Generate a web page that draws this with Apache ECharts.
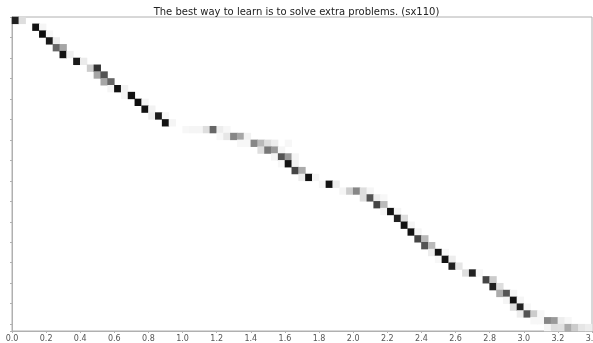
<!DOCTYPE html>
<html>
<head>
<meta charset="utf-8">
<title>alignment</title>
<script src="https://cdn.jsdelivr.net/npm/echarts@6/dist/echarts.min.js"></script>
<style>
	html, body { margin: 0; padding: 0; background: #fff; }
	#chart { width: 593px; height: 343px; }
</style>
</head>
<body>
<div id="chart"></div>
<script>
	// 标题
	const titleText = "The best way to learn is to solve extra problems. (sx110)";
	// 帧数 / 行数
	const frameCount = 85;
	const rowCount = 46;
	const frameStep = 0.04;
	// 时间轴刻度
	const xTicks = [0.0, 0.2, 0.4, 0.6, 0.8, 1.0, 1.2, 1.4, 1.6, 1.8, 2.0, 2.2, 2.4, 2.6, 2.8, 3.0, 3.2, 3.4];
	// 每行非零权重起始帧
	const rowStart = [0, 3, 4, 5, 6, 7, 9, 11, 12, 13, 14, 16, 18, 19, 20, 22,
		25, 30, 33, 36, 38, 39, 41, 42, 45, 48, 51, 53, 54, 56, 57, 58, 59, 60,
		61, 62, 64, 66, 69, 70, 71, 72, 73, 74, 76, 78];
	// 每行权重
	const rowWeights = [
		[0.87, 0.13],
		[0.93, 0.04],
		[0.95, 0.03],
		[0.9, 0.07],
		[0.6, 0.35],
		[0.93, 0.06],
		[0.9, 0.08],
		[0.2, 0.8],
		[0.35, 0.67],
		[0.35, 0.6],
		[0.04, 0.93, 0.05],
		[0.04, 0.93],
		[0.95, 0.04],
		[0.93, 0.05],
		[0.07, 0.9, 0.03],
		[0.93, 0.04],
		[0.03, 0.04, 0.04, 0.13, 0.6, 0.07, 0.03],
		[0.03, 0.1, 0.47, 0.35, 0.05],
		[0.03, 0.03, 0.47, 0.27, 0.13, 0.07, 0, 0.03],
		[0.13, 0.53, 0.4, 0.04],
		[0.04, 0.67, 0.4, 0.04],
		[0.03, 0.93, 0.05],
		[0.73, 0.33],
		[0.07, 0.93, 0.04],
		[0.03, 0.93, 0.07],
		[0.04, 0.2, 0.47, 0.13, 0.04],
		[0.13, 0.67, 0.07, 0.03],
		[0.73, 0.27],
		[0.04, 0.93, 0.04],
		[0.87, 0.13],
		[0.93, 0.04],
		[0.93, 0.04],
		[0.73, 0.27],
		[0.67, 0.27],
		[0.07, 0.93, 0.03],
		[0.03, 0.93, 0.07],
		[0.87, 0.1],
		[0.13, 0.87, 0.03],
		[0.73, 0.2],
		[0.87, 0.13],
		[0.33, 0.67, 0.04],
		[0.04, 0.93, 0.04],
		[0.13, 0.87, 0.03],
		[0.07, 0.67, 0.2, 0.03],
		[0.03, 0.03, 0.47, 0.4, 0.07, 0.03],
		[0.04, 0.13, 0.12, 0.33, 0.2, 0.1, 0.07]
	];

	// 构造热力图数据 [帧, 行, 权重]
	let frames = [];
	for (let i = 0; i < frameCount; i++) frames.push((i * frameStep).toFixed(2));
	let rows = [];
	for (let i = 0; i < rowCount; i++) rows.push(String(i));
	let cells = [];
	rowWeights.forEach((w, r) => {
		w.forEach((v, k) => {
			if (v > 0) cells.push([rowStart[r] + k, r, v]);
		});
	});

	let myChart = echarts.init(document.getElementById("chart"));
	let option = {
		animation: false,
		textStyle: { fontFamily: "DejaVu Sans" },
		title: {
			text: titleText,
			left: "center",
			top: 2,
			textStyle: { fontSize: 10, fontWeight: "normal", color: "#222", fontFamily: "DejaVu Sans" },
		},
		grid: {
			left: 12,
			right: 1,
			top: 17,
			bottom: 12,
			outerBoundsMode: "none",
			containLabel: false,
			show: true,
			borderColor: "#b0b0b0",
			borderWidth: 1,
		},
		visualMap: {
			show: false,
			min: 0,
			max: 1,
			inRange: { color: ["#ffffff", "#000000"] },
		},
		xAxis: [{
			type: "category",
			data: frames,
			show: false,
		}, {
			type: "value",
			min: xTicks[0],
			max: xTicks[xTicks.length - 1],
			interval: 0.2,
			position: "bottom",
			axisLine: { show: true, lineStyle: { color: "#b0b0b0" } },
			axisTick: { show: true, length: 2, lineStyle: { color: "#b0b0b0" } },
			splitLine: { show: false },
			axisLabel: {
				color: "#555",
				fontSize: 8,
				margin: 4,
				formatter: (v) => v.toFixed(1),
			},
		}],
		yAxis: {
			type: "category",
			data: rows,
			inverse: true,
			axisLine: { show: true, lineStyle: { color: "#b0b0b0" } },
			axisTick: { show: true, length: 2, lineStyle: { color: "#b0b0b0" } },
			axisLabel: { show: false },
			splitLine: { show: false },
		},
		series: [{
			type: "heatmap",
			xAxisIndex: 0,
			data: cells,
			emphasis: { disabled: true },
		}],
	};
	myChart.setOption(option);
</script>
</body>
</html>
